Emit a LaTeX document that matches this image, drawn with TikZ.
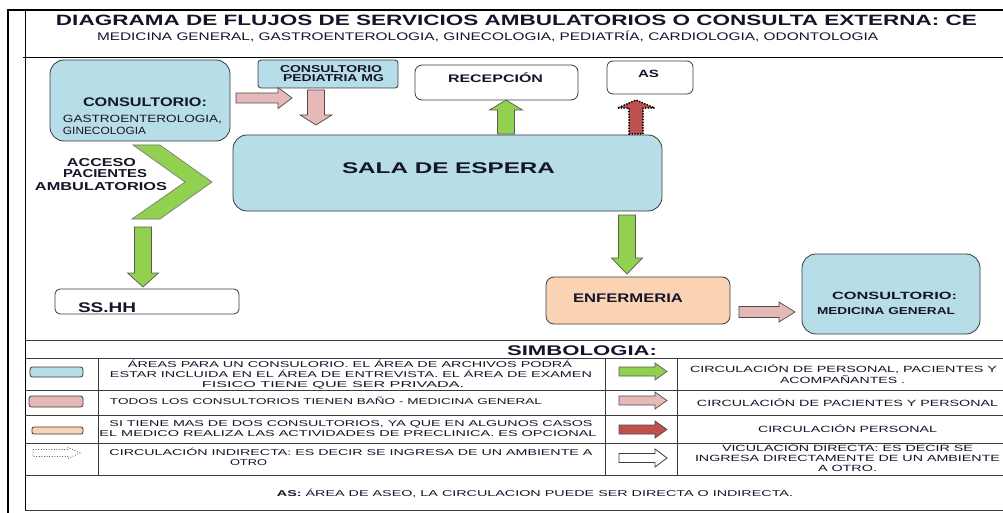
\documentclass[tikz,border=0pt]{standalone}
\usepackage{fontspec}
\setmainfont{Liberation Sans}
\usepackage{graphicx}
\definecolor{blueF}{HTML}{B7DDE8}
\definecolor{pinkF}{HTML}{E6B9B8}
\definecolor{peachF}{HTML}{FAD3B4}
\definecolor{greenF}{HTML}{92D050}
\definecolor{redF}{HTML}{C0504D}
\definecolor{bord}{HTML}{3A3A3A}
\definecolor{txt}{HTML}{15152A}
\newcommand\W[2]{\resizebox{#1pt}{\height}{#2}}
% horizontal block arrow: style, x0, xtip, xhead, yc, shaft width, head width
\newcommand\harrow[7]{\draw[#1] (#2,{#5-#6/2}) -- (#4,{#5-#6/2}) -- (#4,{#5-#7/2}) -- (#3,#5) -- (#4,{#5+#7/2}) -- (#4,{#5+#6/2}) -- (#2,{#5+#6/2}) -- cycle;}
% vertical block arrow: style, xc, y0, ytip, yhead, shaft width, head width
\newcommand\varrow[7]{\draw[#1] ({#2-#6/2},#3) -- ({#2-#6/2},#5) -- ({#2-#7/2},#5) -- (#2,#4) -- ({#2+#7/2},#5) -- ({#2+#6/2},#5) -- ({#2+#6/2},#3) -- cycle;}
\tikzset{
  box/.style={draw=bord, line width=0.8pt, rounded corners=#1, inner sep=0},
  tx/.style={inner sep=0, anchor=base, text=txt},
  lg/.style={draw=bord, line width=0.9pt},
  garrow/.style={fill=greenF, draw=black!65, line width=0.7pt, line join=miter},
  parrow/.style={fill=pinkF, draw=black!70, line width=0.7pt, line join=miter},
  rarrow/.style={fill=redF, draw=black!70, line width=0.7pt, line join=miter},
  warrow/.style={fill=white, draw=black!75, line width=0.8pt, line join=miter},
  lgtext/.style={tx, font=\fontsize{8.5}{8.5}\selectfont},
}
\begin{document}
\begin{tikzpicture}[x=1pt,y=-1pt]
\useasboundingbox (0,0) rectangle (1003,513);
\fill[white] (0,0) rectangle (1003,513);

% frame
\draw[line width=2.7pt, line join=miter] (8,513) -- (8,10) -- (1003,10);
\draw[line width=0.8pt] (25,10) -- (25,511);
\draw[line width=0.8pt] (23,57) -- (1003,57);

% title
\node[tx, font=\bfseries\fontsize{15}{15}\selectfont] (title) at (516.5,26) {\W{921}{DIAGRAMA DE FLUJOS DE SERVICIOS AMBULATORIOS O CONSULTA EXTERNA: CE}};
\node[tx, font=\fontsize{11}{11}\selectfont] (subtitle) at (487.5,41) {\W{781}{MEDICINA GENERAL, GASTROENTEROLOGIA, GINECOLOGIA, PEDIATRÍA, CARDIOLOGIA, ODONTOLOGIA}};

% boxes
\node[box=14pt, fill=blueF, minimum width=180pt, minimum height=81pt] (gastro) at (140,100.5) {};
\node[box=3pt, fill=blueF, minimum width=140pt, minimum height=28pt] (pedia) at (328,74) {};
\node[box=7pt, fill=white, minimum width=163pt, minimum height=35pt] (recep) at (496.5,82.5) {};
\node[box=6pt, fill=white, minimum width=86pt, minimum height=33pt] (as) at (650,77.5) {};
\node[box=14pt, fill=blueF, minimum width=429pt, minimum height=76pt] (sala) at (447.5,173) {};
\node[box=5pt, fill=white, minimum width=184pt, minimum height=25pt] (sshh) at (147,301.5) {};
\node[box=8pt, fill=peachF, minimum width=184pt, minimum height=47pt] (enf) at (638,300.5) {};
\node[box=14pt, fill=blueF, minimum width=178pt, minimum height=80pt] (medgen) at (891,294) {};

% box texts
\node[tx, font=\bfseries\fontsize{12.5}{12.5}\selectfont] (tgastro1) at (145,107) {\W{124}{CONSULTORIO:}};
\node[tx, font=\fontsize{10.5}{10.5}\selectfont] (tgastro2) at (142.5,123) {\W{159}{GASTROENTEROLOGIA,}};
\node[tx, font=\fontsize{10.5}{10.5}\selectfont] (tgastro3) at (104.5,135) {\W{83}{GINECOLOGIA}};
\node[tx, font=\bfseries\fontsize{10}{10}\selectfont] (tpedia1) at (331,72.5) {\W{102}{CONSULTORIO}};
\node[tx, font=\bfseries\fontsize{10}{10}\selectfont] (tpedia2) at (333.5,81.5) {\W{101}{PEDIATRIA MG}};
\node[tx, font=\bfseries\fontsize{11}{11}\selectfont] (trecep) at (495.5,83) {\W{95}{RECEPCIÓN}};
\node[tx, font=\bfseries\fontsize{10.5}{10.5}\selectfont] (tas) at (648.5,78) {\W{21}{AS}};
\node[tx, font=\bfseries\fontsize{15.5}{15.5}\selectfont] (tsala) at (448.5,174) {\W{213}{SALA DE ESPERA}};
\node[tx, font=\bfseries\fontsize{14}{14}\selectfont] (tsshh) at (107,312) {\W{58}{SS.HH}};
\node[tx, font=\bfseries\fontsize{12.5}{12.5}\selectfont] (tenf) at (628,302.3) {\W{110}{ENFERMERIA}};
\node[tx, font=\bfseries\fontsize{10.5}{10.5}\selectfont] (tmed1) at (894.5,299.3) {\W{125}{CONSULTORIO:}};
\node[tx, font=\bfseries\fontsize{10}{10}\selectfont] (tmed2) at (886,314.3) {\W{138}{MEDICINA GENERAL}};

% access chevron and text
\draw[fill=greenF, draw=black!55, line width=0.6pt, line join=miter] (133,145) -- (160,145) -- (212,182) -- (160,219) -- (132,219) -- (185,182) -- cycle;
\node[tx, font=\bfseries\fontsize{11.5}{11.5}\selectfont] (tacc1) at (101.5,166.5) {\W{69}{ACCESO}};
\node[tx, font=\bfseries\fontsize{11.5}{11.5}\selectfont] (tacc2) at (105,177.5) {\W{84}{PACIENTES}};
\node[tx, font=\bfseries\fontsize{11.5}{11.5}\selectfont] (tacc3) at (101,190.5) {\W{132}{AMBULATORIOS}};

% flow arrows
\harrow{parrow}{236}{292}{278}{98}{10}{21}
\varrow{parrow}{316}{90}{125}{115}{17}{32}
\varrow{garrow}{506}{134}{100}{110}{17}{33}
\varrow{rarrow, draw=black, line width=2pt, dash pattern=on 0pt off 2.8pt, line cap=round}{636}{134}{100}{108}{14}{37}
\varrow{garrow}{143}{227}{287}{273}{17}{31}
\varrow{garrow}{627}{215}{274}{258}{17}{31}
\harrow{parrow}{739}{795}{779}{312}{11}{20}

% legend table
\foreach \yy in {340,358,390,415,443,475,510} \draw[lg] (25,\yy) -- (1003,\yy);
\foreach \xx in {98,605,677} \draw[lg] (\xx,358) -- (\xx,475);
\node[tx, font=\bfseries\fontsize{14}{14}\selectfont] (tsimb) at (582,355) {\W{150}{SIMBOLOGIA:}};

\node[box=2.5pt, fill=blueF, minimum width=53pt, minimum height=10pt] (sw1) at (56.5,372) {};
\node[box=2.5pt, fill=pinkF, minimum width=54pt, minimum height=11pt] (sw2) at (56,401.5) {};
\node[box=2pt, fill=peachF, minimum width=51pt, minimum height=7pt] (sw3) at (57.5,430.5) {};
\harrow{draw=black!60, line width=0.8pt, dash pattern=on 1pt off 1.6pt}{33}{80}{68}{453}{7}{11}

\harrow{garrow}{619}{667}{655}{371.5}{9}{17}
\harrow{parrow}{619}{667}{655}{400.5}{9}{17}
\harrow{rarrow}{619}{667}{655}{429.5}{9}{17}
\harrow{warrow}{619}{667}{655}{458}{9}{18}

% legend texts, column 2
\node[lgtext] (l1a) at (350,367.5) {\W{444}{ÁREAS PARA UN CONSULORIO. EL ÁREA DE ARCHIVOS PODRÁ}};
\node[lgtext] (l1b) at (351,377.7) {\W{482}{ESTAR INCLUIDA EN EL ÁREA DE ENTREVISTA. EL ÁREA DE EXAMEN}};
\node[lgtext] (l1c) at (333,387.3) {\W{262}{FISICO TIENE QUE SER PRIVADA.}};
\node[lgtext] (l2) at (326,404) {\W{432}{TODOS LOS CONSULTORIOS TIENEN BAÑO - MEDICINA GENERAL}};
\node[lgtext] (l3a) at (351,426.7) {\W{483}{SI TIENE MAS DE DOS CONSULTORIOS, YA QUE EN ALGUNOS CASOS}};
\node[lgtext] (l3b) at (348,436.7) {\W{497}{EL MEDICO REALIZA LAS ACTIVIDADES DE PRECLINICA. ES OPCIONAL}};
\node[lgtext] (l4a) at (351,455.7) {\W{483}{CIRCULACIÓN INDIRECTA: ES DECIR SE INGRESA DE UN AMBIENTE A}};
\node[lgtext] (l4b) at (248.5,465) {\W{37}{OTRO}};
\node[lgtext] (l5) at (535,496.7) {\W{516}{\textbf{AS:} ÁREA DE ASEO, LA CIRCULACION PUEDE SER DIRECTA O INDIRECTA.}};

% legend texts, column 4
\node[lgtext, font=\fontsize{9}{9}\selectfont] (r1a) at (843.5,372.3) {\W{307}{CIRCULACIÓN DE PERSONAL, PACIENTES Y}};
\node[lgtext, font=\fontsize{9}{9}\selectfont] (r1b) at (842.5,383.3) {\W{125}{ACOMPAÑANTES .}};
\node[lgtext, font=\fontsize{9}{9}\selectfont] (r2) at (847.5,406) {\W{301}{CIRCULACIÓN DE PACIENTES Y PERSONAL}};
\node[lgtext, font=\fontsize{9}{9}\selectfont] (r3) at (847.5,432.7) {\W{179}{CIRCULACIÓN PERSONAL}};
\node[lgtext, font=\fontsize{9}{9}\selectfont] (r4a) at (847.5,451.7) {\W{251}{VICULACIÓN DIRECTA: ES DECIR SE}};
\node[lgtext, font=\fontsize{9}{9}\selectfont] (r4b) at (847.5,461.7) {\W{305}{INGRESA DIRECTAMENTE DE UN AMBIENTE}};
\node[lgtext, font=\fontsize{9}{9}\selectfont] (r4c) at (847.5,471.7) {\W{59}{A OTRO.}};
\end{tikzpicture}
\end{document}
